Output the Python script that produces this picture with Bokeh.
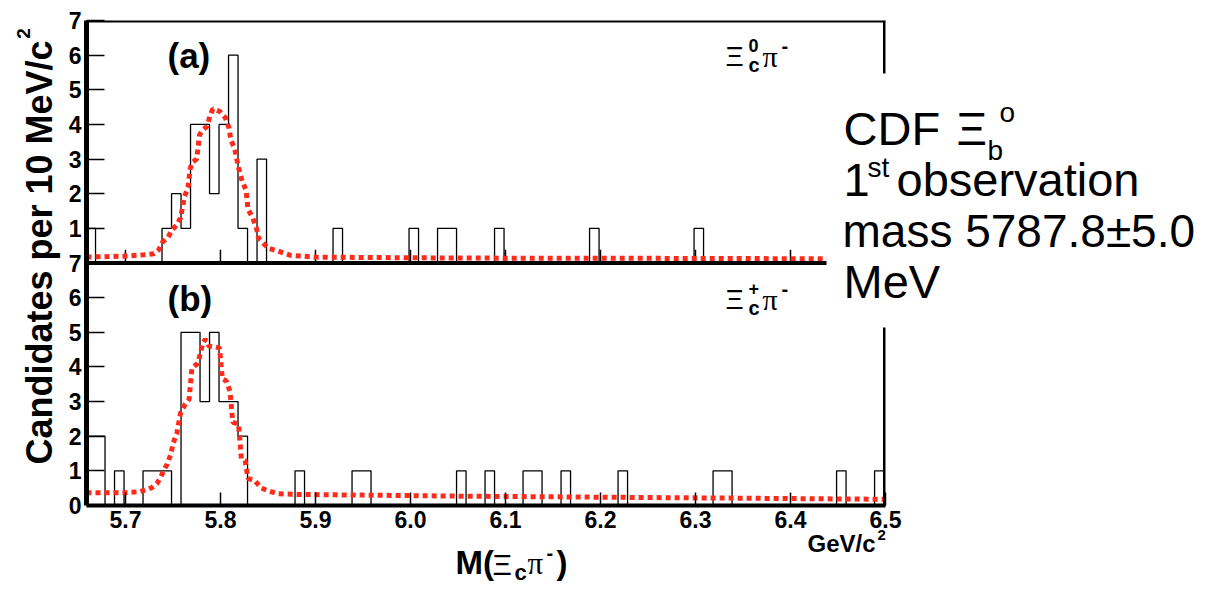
import math
from bokeh.plotting import figure
from bokeh.models import Range1d, FixedTicker, Span
from bokeh.core.properties import value
from bokeh.embed import file_html
from bokeh.resources import INLINE

# ---------------- data ----------------
bin_width = 0.01
first_edge = 5.6585
n_bins = 85

# panel (a): Xi_c^0 pi-  (lower bin edge, candidates)
a_lo = [5.6585, 5.7385, 5.7485, 5.7585, 5.7685, 5.7785, 5.7885, 5.7985, 5.8085,
        5.8185, 5.8385, 5.9185, 5.9985, 6.0285, 6.0385, 6.0885, 6.1885, 6.2985]
a_cnt = [1, 1, 2, 1, 4, 4, 2, 4, 6, 1, 3, 1, 1, 1, 1, 1, 1, 1]

# panel (b): Xi_c^+ pi-
b_lo = [5.6585, 5.6685, 5.6885, 5.7185, 5.7285, 5.7385, 5.7585, 5.7685, 5.7785,
        5.7885, 5.7985, 5.8085, 5.8185, 5.8785, 5.9385, 5.9485, 6.0485, 6.0785,
        6.1185, 6.1285, 6.1585, 6.2185, 6.3185, 6.3285, 6.4485, 6.4885]
b_cnt = [2, 2, 1, 1, 1, 1, 5, 5, 3, 5, 3, 3, 2, 1, 1, 1, 1, 1, 1, 1, 1, 1, 1, 1, 1, 1]

# fit curves
a_fit_x = [5.659, 5.700, 5.720, 5.730, 5.735, 5.739, 5.745, 5.749, 5.754, 5.758,
           5.760, 5.762, 5.766, 5.768, 5.770, 5.775, 5.778, 5.782, 5.786, 5.789,
           5.792, 5.799, 5.805, 5.809, 5.811, 5.815, 5.819, 5.823, 5.827, 5.829,
           5.834, 5.838, 5.840, 5.846, 5.850, 5.860, 5.874, 5.900, 6.000, 6.100,
           6.200, 6.300, 6.500]
a_fit_y = [0.17, 0.20, 0.24, 0.27, 0.38, 0.60, 0.75, 0.95, 1.10, 1.30,
           1.60, 1.90, 2.20, 2.70, 2.90, 3.00, 3.70, 3.85, 3.95, 4.25,
           4.45, 4.38, 4.20, 3.90, 3.55, 3.30, 2.75, 2.35, 2.10, 1.55,
           1.30, 1.00, 0.72, 0.55, 0.43, 0.35, 0.22, 0.17, 0.15, 0.14,
           0.14, 0.13, 0.12]

b_fit_x = [5.659, 5.700, 5.715, 5.722, 5.728, 5.733, 5.737, 5.740, 5.744, 5.748,
           5.750, 5.754, 5.758, 5.763, 5.767, 5.770, 5.776, 5.779, 5.781, 5.784,
           5.788, 5.794, 5.799, 5.802, 5.806, 5.810, 5.813, 5.819, 5.822, 5.826,
           5.829, 5.836, 5.843, 5.850, 5.860, 5.880, 5.950, 6.050, 6.150, 6.250,
           6.350, 6.450, 6.500]
b_fit_y = [0.37, 0.37, 0.40, 0.45, 0.52, 0.63, 0.80, 1.00, 1.20, 1.50,
           1.78, 2.07, 2.67, 2.93, 3.07, 3.97, 4.10, 4.40, 4.66, 4.80,
           4.60, 4.58, 4.55, 3.65, 3.60, 3.30, 2.40, 2.35, 1.35, 1.30,
           0.78, 0.72, 0.50, 0.43, 0.34, 0.32, 0.30, 0.27, 0.25, 0.23,
           0.21, 0.19, 0.18]

x_ticks = [5.7, 5.8, 5.9, 6.0, 6.1, 6.2, 6.3, 6.4, 6.5]
x_tick_labels = ["5.7", "5.8", "5.9", "6.0", "6.1", "6.2", "6.3", "6.4", "6.5"]
y_ticks = list(range(15))
y_tick_labels = ["0", "1", "2", "3", "4", "5", "6", "7", "1", "2", "3", "4", "5", "6", "7"]

# --------------- helpers ---------------
def full_hist(lo, cnt):
    counts = [0] * n_bins
    for l, c in zip(lo, cnt):
        counts[int(round((l - first_edge) / bin_width))] = c
    edges = [first_edge + bin_width * k for k in range(n_bins + 1)]
    return edges, counts + [0]

W, H = 1202, 586
X0, X1 = 5.659, 6.5
FRAME_L, FRAME_R, FRAME_T, FRAME_B = 86, 885, 20, 505   # canvas pixels
PX_PER_X = (FRAME_R - FRAME_L) / (X1 - X0)
PX_PER_Y = (FRAME_B - FRAME_T) / 14.0
BASE_K = 0.38   # baseline correction (fraction of font size)

def gx(px):
    return X0 + (px - FRAME_L) / PX_PER_X

def gy(py):
    return (FRAME_B - py) / PX_PER_Y

FONT = "Liberation Sans"
RED = "#ff2a1a"

p = figure(width=W, height=H, output_backend="svg", toolbar_location=None,
           x_range=Range1d(X0, X1), y_range=Range1d(0, 14),
           min_border_left=FRAME_L, min_border_right=W - FRAME_R,
           min_border_top=FRAME_T, min_border_bottom=H - FRAME_B)
p.extra_y_ranges = {"top": Range1d(-7, 7)}
p.outline_line_color = None
p.xgrid.visible = False
p.ygrid.visible = False
p.background_fill_color = "white"
p.border_fill_color = "white"

# axes
xa = p.xaxis[0]
xa.ticker = FixedTicker(ticks=x_ticks)
xa.major_label_overrides = dict(zip(x_ticks, x_tick_labels))
xa.major_tick_in = 13
xa.major_tick_out = 0
xa.minor_tick_in = 0
xa.minor_tick_out = 0
xa.major_tick_line_width = 1.5
xa.axis_line_width = 4
xa.major_label_text_font = FONT
xa.major_label_text_font_style = "bold"
xa.major_label_text_font_size = "23px"
xa.major_label_text_color = "black"
xa.major_label_standoff = 5

ya = p.yaxis[0]
ya.ticker = FixedTicker(ticks=y_ticks)
ya.major_label_overrides = dict(zip(y_ticks, y_tick_labels))
ya.major_tick_in = 18
ya.major_tick_out = 0
ya.minor_tick_in = 0
ya.minor_tick_out = 0
ya.major_tick_line_width = 1.5
ya.axis_line_width = 5
ya.major_label_text_font = FONT
ya.major_label_text_font_style = "bold"
ya.major_label_text_font_size = "23px"
ya.major_label_text_color = "black"
ya.major_label_standoff = 5

# x ticks at bottom of upper panel
p.segment(x0=x_ticks, y0=[0] * len(x_ticks), x1=x_ticks, y1=[0.38] * len(x_ticks),
          y_range_name="top", line_color="black", line_width=1.5)

# histograms
ea, ca = full_hist(a_lo, a_cnt)
eb, cb = full_hist(b_lo, b_cnt)
p.step(x=ea, y=ca, mode="after", y_range_name="top", line_color="black", line_width=1.3)
p.step(x=eb, y=cb, mode="after", line_color="black", line_width=1.3)

# fits
p.line(a_fit_x, a_fit_y, y_range_name="top", line_color=RED, line_width=5,
       line_dash="5 4")
p.line(b_fit_x, b_fit_y, line_color=RED, line_width=5, line_dash="5 4")

# frame lines
p.add_layout(Span(location=14, dimension="width", line_color="black", line_width=4))
p.add_layout(Span(location=7, dimension="width", line_color="black", line_width=4))
p.add_layout(Span(location=X1, dimension="height", line_color="black", line_width=5))


def txt(text, px, py, size, style="normal", font=FONT, align="left", angle=0.0):
    s = float(size.replace("px", ""))
    if angle:
        px = px - BASE_K * s
    else:
        py = py - BASE_K * s
    p.text(x=[gx(px)], y=[gy(py)], text=[text], text_font=value(font),
           text_font_size=value(size), text_font_style=value(style),
           text_color="black", text_align=value(align),
           text_baseline=value("alphabetic"), angle=angle, level="overlay")


# panel labels
txt("(a)", 167, 68, "35px", "bold")
txt("(b)", 167, 311, "35px", "bold")

for dy, sup in ((0, "0"), (243, "+")):
    txt("\u039e", 725, 67 + dy, "28px")
    txt(sup, 748, 52 + dy, "18px", "bold")
    txt("c", 748, 72 + dy, "20px", "bold")
    txt("\u03c0", 762, 67 + dy, "30px", font="Liberation Serif")
    txt("-", 781, 53 + dy, "20px", "bold")

# axis titles
txt("Candidates per 10 MeV/c", 53, 252, "36px", "bold", align="center", angle=math.pi / 2)
txt("2", 30, 33, "19px", "bold", align="center", angle=math.pi / 2)

txt("M(", 455, 575, "33px", "bold")
txt("\u039e", 492, 575, "30px")
txt("c", 514, 580, "22px", "bold")
txt("\u03c0", 527, 575, "31px", font="Liberation Serif")
txt("-", 546, 560, "20px", "bold")
txt(")", 556, 575, "33px", "bold")

txt("GeV/c", 807, 552, "24px", "bold")
txt("2", 877, 540, "15px", "bold")

# white slide box with the annotation text
p.quad(left=[gx(826)], right=[gx(1210)], top=[gy(73)], bottom=[gy(327)],
       fill_color="white", line_color=None, level="overlay")

txt("CDF", 843, 146, "47px")
txt("\u039e", 956, 146, "47px")
txt("b", 987, 161, "28px")
txt("o", 999, 123, "28px")
txt("1", 843, 197, "47px")
txt("st", 867, 178, "28px")
txt("observation", 896, 197, "47px")
txt("mass 5787.8\u00b15.0", 842, 248, "46px")
txt("MeV", 843, 299, "47px")

open("out.html", "w").write(file_html(p, INLINE))
